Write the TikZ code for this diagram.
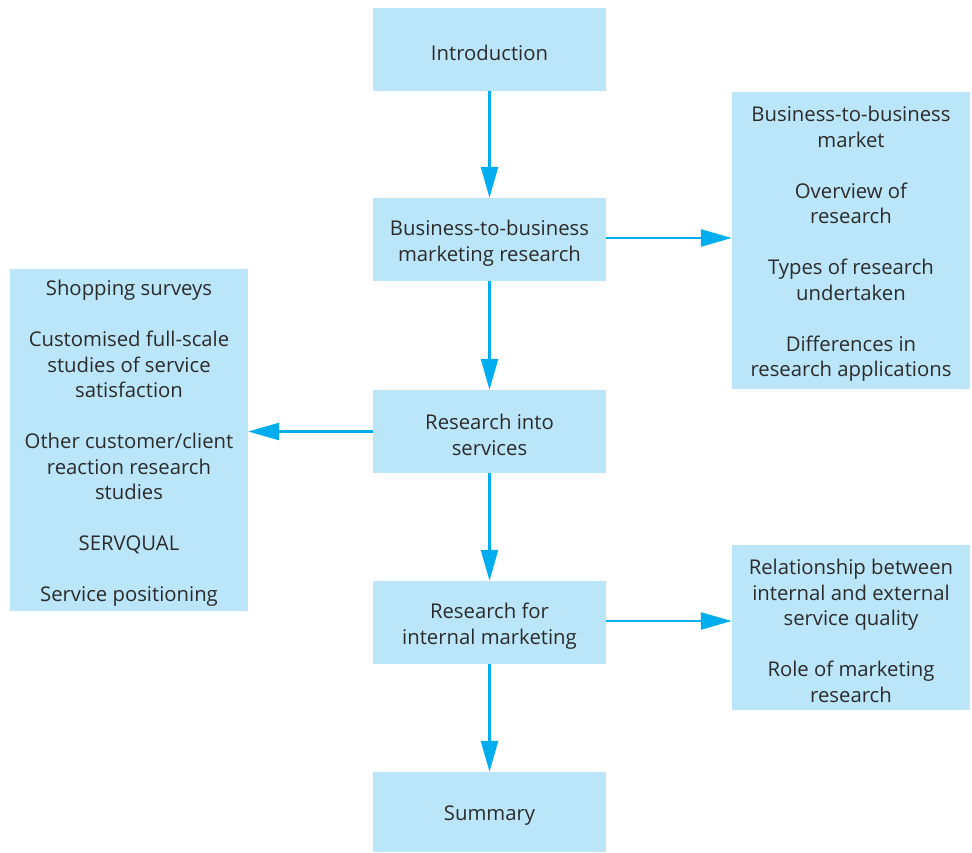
\documentclass[tikz,border=0pt]{standalone}
\usepackage{fontspec}
\setmainfont{Open Sans}
\usetikzlibrary{arrows.meta}
\definecolor{boxblue}{HTML}{BBE5F8}
\definecolor{arrowblue}{HTML}{00AEEF}
\definecolor{txt}{HTML}{2B2B2B}
\begin{document}
\begin{tikzpicture}[x=1pt,y=-1pt,
  box/.style={fill=boxblue, draw=none, inner sep=0pt},
  lbl/.style={align=center, text=txt, inner sep=0pt, yshift=-3.5pt,
    font=\fontsize{20.3}{25.5}\selectfont},
  conn/.style={draw=arrowblue, line width=2.6pt,
    -{Triangle[length=31pt,width=17pt]}}]
\useasboundingbox (0,0) rectangle (972,853);
\node[box, minimum width=233pt, minimum height=83pt] (intro) at (489.5,49.5) {};
\node[box, minimum width=233pt, minimum height=83pt] (b2b) at (489.5,239.5) {};
\node[box, minimum width=233pt, minimum height=83pt] (serv) at (489.5,431.5) {};
\node[box, minimum width=233pt, minimum height=83pt] (intm) at (489.5,622.5) {};
\node[box, minimum width=233pt, minimum height=80pt] (summ) at (489.5,812) {};
\node[box, minimum width=238pt, minimum height=297pt] (rt) at (851,240.5) {};
\node[box, minimum width=238pt, minimum height=342pt] (lf) at (129,440) {};
\node[box, minimum width=238pt, minimum height=165pt] (rb) at (851,627.5) {};
\node[lbl] (introT) at (intro.center) {Introduction};
\node[lbl] (b2bT) at (b2b.center) {Business-to-business\\marketing research};
\node[lbl] (servT) at (serv.center) {Research into\\services};
\node[lbl] (intmT) at (intm.center) {Research for\\internal marketing};
\node[lbl] (summT) at (summ.center) {Summary};
\node[lbl] (rtT) at (rt.center) {Business-to-business\\market\\[25.5pt]Overview of\\research\\[25.5pt]Types of research\\undertaken\\[25.5pt]Differences in\\research applications};
\node[lbl] (lfT) at (lf.center) {Shopping surveys\\[25.5pt]Customised full-scale\\studies of service\\satisfaction\\[25.5pt]Other customer/client\\reaction research\\studies\\[25.5pt]SERVQUAL\\[25.5pt]Service positioning};
\node[lbl] (rbT) at (rb.center) {Relationship between\\internal and external\\service quality\\[25.5pt]Role of marketing\\research};
\draw[conn] (intro.south) -- (b2b.north);
\draw[conn] (b2b.south) -- (serv.north);
\draw[conn] (serv.south) -- (intm.north);
\draw[conn] (intm.south) -- (summ.north);
\draw[conn] (b2b.east) ++(0,-1.5) coordinate (b2bE) -- (b2bE -| rt.west);
\draw[conn] (serv.west) -- (serv.west -| lf.east);
\draw[conn] (intm.east) ++(0,-1.5) coordinate (intmE) -- (intmE -| rb.west);
\end{tikzpicture}
\end{document}
